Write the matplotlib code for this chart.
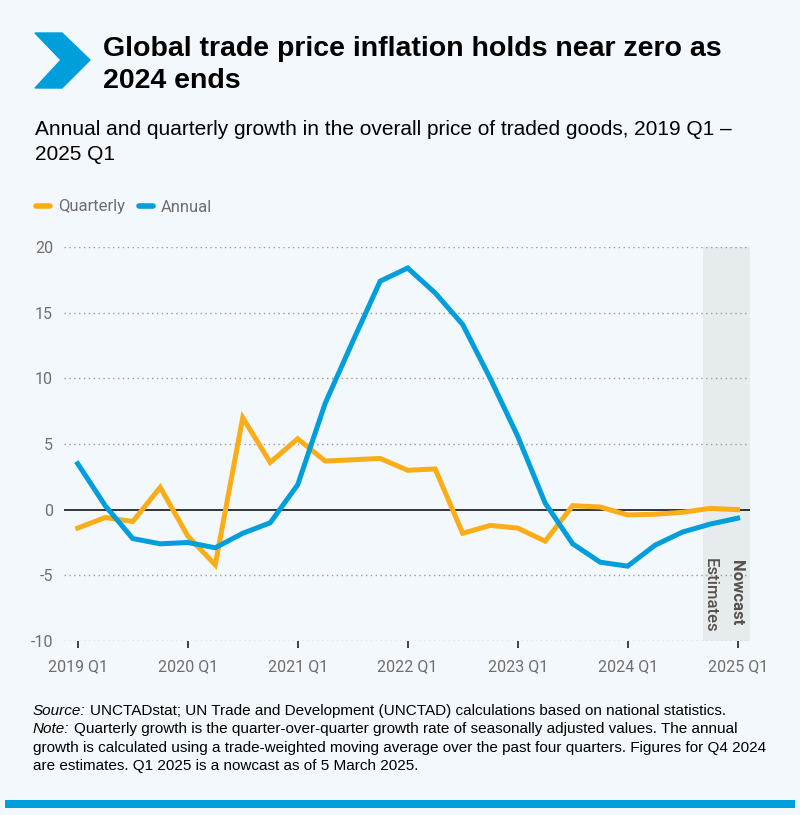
import numpy as np
import matplotlib.pyplot as plt
from matplotlib.lines import Line2D
from matplotlib.patches import Polygon, Rectangle

# quarters 2019 Q1 .. 2025 Q1
quarters = [f"{y} Q{q}" for y in range(2019, 2026) for q in range(1, 5)][:25]
quarterly = [-1.4, -0.6, -0.9, 1.7, -2.0, -4.2, 7.0, 3.6, 5.4, 3.7, 3.8, 3.9,
             3.0, 3.1, -1.8, -1.2, -1.4, -2.4, 0.3, 0.2, -0.4, -0.35, -0.2, 0.1, 0.0]
annual = [3.5, 0.3, -2.2, -2.6, -2.5, -2.9, -1.8, -1.0, 1.9, 8.1, 12.8, 17.4,
          18.4, 16.5, 14.1, 10.0, 5.6, 0.5, -2.6, -4.0, -4.3, -2.7, -1.7, -1.1, -0.65]
tick_labels = ["2019 Q1", "2020 Q1", "2021 Q1", "2022 Q1", "2023 Q1", "2024 Q1", "2025 Q1"]
yticks = [-10, -5, 0, 5, 10, 15, 20]

BG = "#f3f8fc"
BLUE = "#009edb"
ORANGE = "#fbad18"
GREY = "#6e6e6e"
W, H = 800, 815

plt.rcParams["font.family"] = ["Liberation Sans", "DejaVu Sans"]


def fx(px):
    return px / W


def fy(py):
    return 1 - py / H


fig = plt.figure(figsize=(8, 8.15), dpi=100, facecolor=BG)
ax = fig.add_axes([fx(64), fy(641), fx(750) - fx(64), fy(247) - fy(641)])
ax.set_facecolor(BG)

x = np.arange(len(quarters))
ax.set_xlim(-0.5, 24.45)
ax.set_ylim(-10, 20)

# nowcast / estimates band
ax.axvspan(22.75, 24.45, color="#e6ebee", zorder=0, lw=0)
ax.text(23.95, -3.8, "Nowcast", rotation=270, ha="center", va="top",
        fontsize=12, fontweight="bold", color="#57504b", family="Roboto")
ax.text(23.0, -3.7, "Estimates", rotation=270, ha="center", va="top",
        fontsize=12, fontweight="medium", color="#57504b", family="Roboto")

for v in yticks:
    if v != 0:
        ax.axhline(v, color="#9a9a9a", lw=1, ls=(0, (1, 2.5)), zorder=1)
ax.axhline(0, color="black", lw=1.1, zorder=2)

ax.plot(x, quarterly, color=ORANGE, lw=3.6, solid_joinstyle="miter", zorder=3)
ax.plot(x, annual, color=BLUE, lw=3.6, solid_joinstyle="miter", zorder=4)

for s in ax.spines.values():
    s.set_visible(False)
ax.set_yticks(yticks)
ax.set_yticklabels([str(v) for v in yticks], family="Roboto", fontsize=11.5, color=GREY)
ax.set_xticks(x[::4])
ax.set_xticklabels(tick_labels, family="Roboto", fontsize=11.5, color=GREY)
ax.tick_params(axis="y", length=0, pad=8)
ax.tick_params(axis="x", length=5, width=1.3, color="#333333", pad=8)

# header
fig.patches.append(Polygon([(fx(35), fy(33)), (fx(62), fy(33)), (fx(90), fy(60)),
                            (fx(62), fy(88)), (fx(35), fy(88)), (fx(61), fy(60))],
                           closed=True, transform=fig.transFigure, color=BLUE))
fig.text(fx(103), fy(56), "Global trade price inflation holds near zero as",
         fontsize=20.5, fontweight="bold", va="baseline")
fig.text(fx(103), fy(88), "2024 ends", fontsize=20.5, fontweight="bold", va="baseline")
fig.text(fx(35), fy(135), "Annual and quarterly growth in the overall price of traded goods, 2019 Q1 \u2013",
         fontsize=15, va="baseline")
fig.text(fx(35), fy(160), "2025 Q1", fontsize=15, va="baseline")

handles = [Line2D([], [], color=ORANGE, lw=4, solid_capstyle="round"),
           Line2D([], [], color=BLUE, lw=4, solid_capstyle="round")]
fig.legend(handles, ["Quarterly", "Annual"], loc="center left",
           bbox_to_anchor=(fx(36), fy(207)), ncol=2, frameon=False,
           borderpad=0, borderaxespad=0,
           handlelength=0.85, handletextpad=0.45, columnspacing=0.85,
           prop={"family": "Roboto", "size": 12}, labelcolor=GREY)

# footer: italic lead word followed by regular text
fs = 11
renderer = fig.canvas.get_renderer()
footer = [("Source:", "UNCTADstat; UN Trade and Development (UNCTAD) calculations based on national statistics.", 715),
          ("Note:", "Quarterly growth is the quarter-over-quarter growth rate of seasonally adjusted values. The annual", 733),
          ("", "growth is calculated using a trade-weighted moving average over the past four quarters. Figures for Q4 2024", 752),
          ("", "are estimates. Q1 2025 is a nowcast as of 5 March 2025.", 770)]
for lead, rest, py in footer:
    x0 = fx(33)
    if lead:
        t = fig.text(x0, fy(py), lead, fontsize=fs, style="italic", va="baseline")
        bb = t.get_window_extent(renderer)
        x0 = bb.x1 / W + 4 / W
    fig.text(x0, fy(py), rest, fontsize=fs, va="baseline")

fig.patches.append(Rectangle((fx(5), fy(808)), fx(790), 8 / H, transform=fig.transFigure,
                             color=BLUE, lw=0))

fig.savefig("out.png", dpi=100, facecolor=BG)
